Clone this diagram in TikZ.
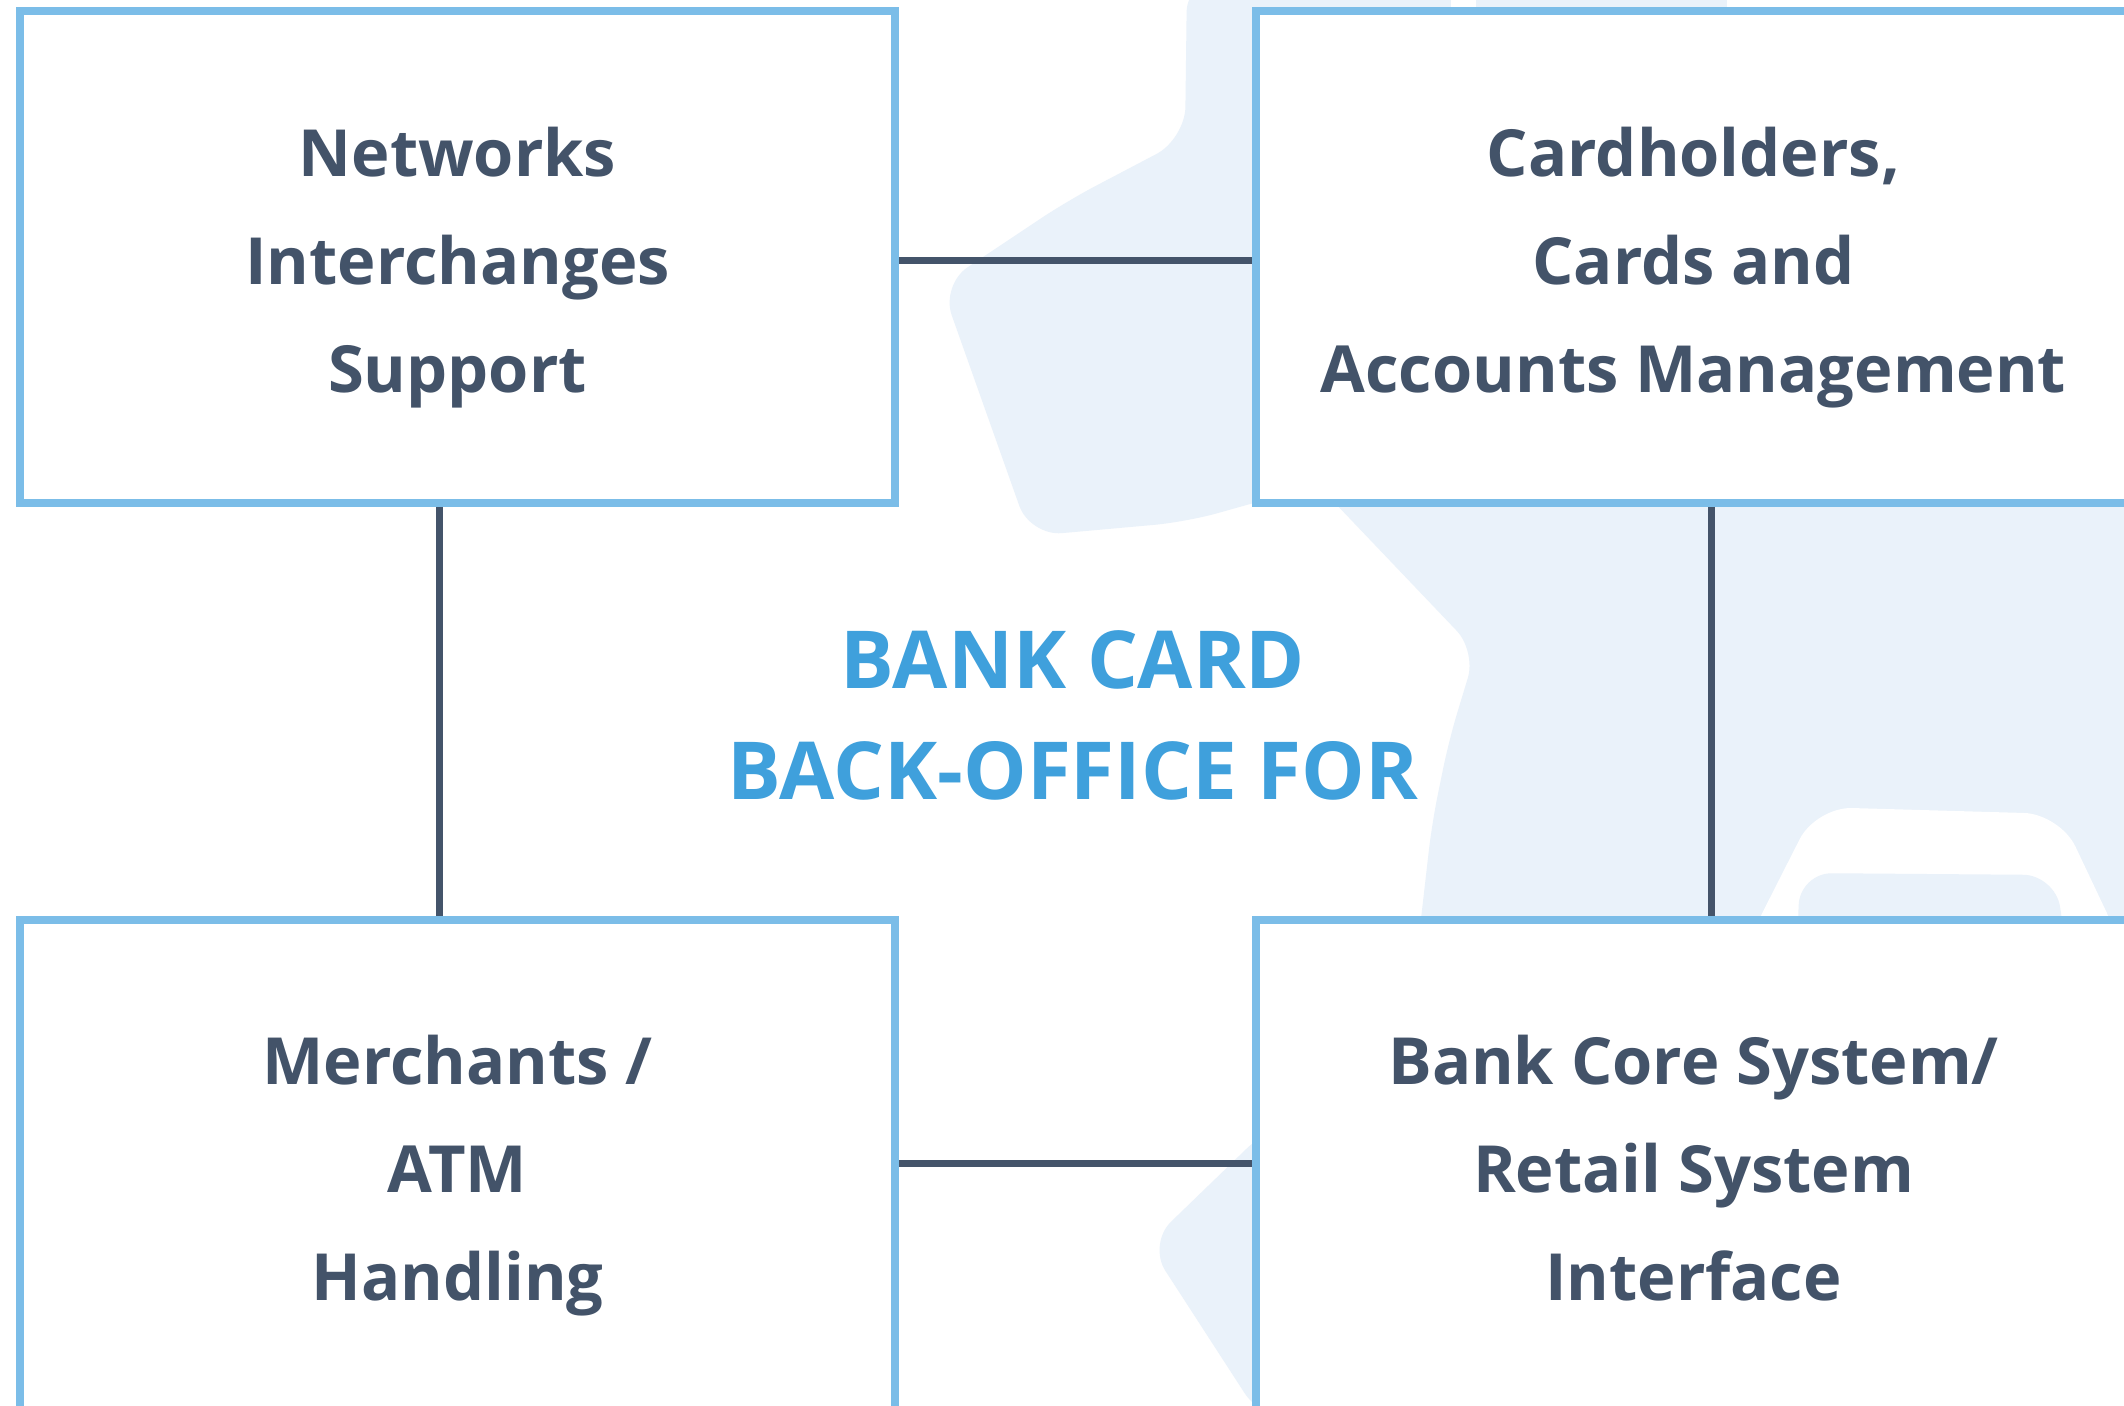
\documentclass[tikz,border=0pt]{standalone}
\usepackage{fontspec}
\setmainfont{Open Sans}
\definecolor{boxblue}{HTML}{7BBDE8}
\definecolor{textdark}{HTML}{435369}
\definecolor{conncol}{HTML}{44546A}
\definecolor{titleblue}{HTML}{3FA0DC}
\definecolor{bgblue}{HTML}{EAF2FA}
\newcommand\bxline[1]{\smash{#1}}
\newcommand\topstrut{\vrule height 27pt width 0pt}
\begin{document}
\begin{tikzpicture}[x=0.5pt,y=-0.5pt,
  box/.style={draw=boxblue, line width=4pt, fill=white, minimum width=437.5pt,
    minimum height=245.75pt, inner sep=0pt, align=center, text=textdark,
    font=\fontsize{32.5}{54}\selectfont\bfseries},
  conn/.style={draw=conncol, line width=3.5pt},
  bg/.style={fill=bgblue, draw=none},
  titletext/.style={align=center, text=titleblue, inner sep=0pt,
    font=\fontsize{40}{55.5}\selectfont\bfseries}]
\useasboundingbox (0,0) rectangle (2124,1406);
\fill[white] (0,0) rectangle (2124,1406);
% background shapes
\fill[bg, rounded corners=16pt] (1300,-20) -- (1187,-20) -- (1185,139) -- (1067,201)
  -- (941,285) -- (1030,536) -- (1186,522) -- (1300,490) -- cycle;
\fill[bg] (1250,-5) rectangle (1451,30);
\fill[bg] (1476,-5) rectangle (1727,30);
\fill[bg, rounded corners=14pt] (1313,480) -- (1476,651) -- (1449,740) -- (1432,823)
  -- (1418,945) -- (2140,945) -- (2140,480) -- cycle;
\fill[white, rounded corners=18pt] (1746,945) -- (1816,807) -- (2060,814) -- (2122,945) -- cycle;
\fill[bg, rounded corners=16pt] (1797,945) -- (1800,873) -- (2055,875) -- (2066,945) -- cycle;
\fill[bg, rounded corners=16pt] (1290,1126) -- (1270,1126) -- (1148,1244) -- (1262,1420)
  -- (1290,1420) -- cycle;
% boxes
\node[box] (tl) at (457.5,257.25) {\topstrut\bxline{Networks}\\\bxline{Interchanges}\\\bxline{Support}};
\node[box] (tr) at (1693.5,257.25) {\topstrut\bxline{Cardholders,}\\\bxline{Cards and}\\\bxline{Accounts Management}};
\node[box] (bl) at (457.5,1165.25) {\topstrut\bxline{Merchants /}\\\bxline{ATM}\\\bxline{Handling}};
\node[box] (br) at (1693.5,1165.25) {\topstrut\bxline{Bank Core System/}\\\bxline{Retail System}\\\bxline{Interface}};
% connectors
\draw[conn] ([yshift=-1.5pt]tl.east) -- ([yshift=-1.5pt]tr.west);
\draw[conn] ([yshift=1.1pt]bl.east) -- ([yshift=1.1pt]br.west);
\draw[conn] ([xshift=-9.25pt]tl.south) -- ([xshift=-9.25pt]bl.north);
\draw[conn] ([xshift=8.75pt]tr.south) -- ([xshift=8.75pt]br.north);
% title
\node[titletext] (title) at (1073,743.5) {\bxline{BANK CARD}\\\bxline{BACK-OFFICE FOR}};
\end{tikzpicture}
\end{document}
